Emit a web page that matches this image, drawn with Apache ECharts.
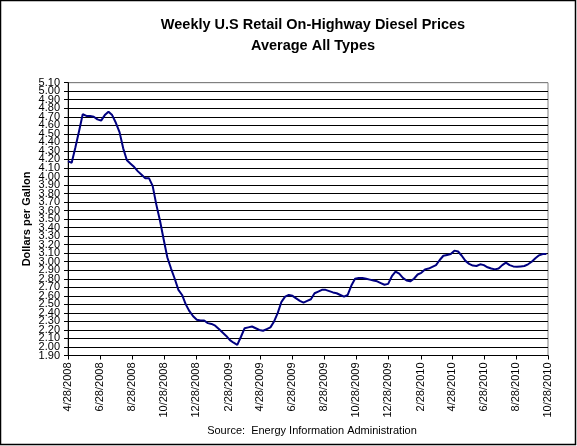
<!DOCTYPE html>
<html>
<head>
<meta charset="utf-8">
<script src="https://cdn.jsdelivr.net/npm/echarts@6/dist/echarts.min.js"></script>
<style>
html,body{margin:0;padding:0;background:#fff;}
#chart{width:577px;height:446px;}
</style>
</head>
<body>
<div id="chart"></div>
<script>
// Weekly series start (Monday 4/28/2008), one value per week
var startDate = [2008, 4, 28];
var prices = [
  4.18, 4.16, 4.34, 4.53, 4.73, 4.71, 4.71, 4.70, 4.67, 4.655,
  4.72, 4.76, 4.72, 4.63, 4.52, 4.33, 4.19, 4.15, 4.11, 4.06,
  4.02, 3.98, 3.98, 3.89, 3.67, 3.48, 3.26, 3.05, 2.92, 2.80,
  2.67, 2.61, 2.50, 2.42, 2.36, 2.32, 2.31, 2.31, 2.28, 2.27,
  2.25, 2.21, 2.17, 2.13, 2.08, 2.05, 2.025, 2.12, 2.22, 2.23,
  2.24, 2.22, 2.20, 2.19, 2.21, 2.23, 2.30, 2.40, 2.53, 2.59,
  2.61, 2.60, 2.57, 2.54, 2.52, 2.54, 2.56, 2.63, 2.65, 2.67,
  2.67, 2.655, 2.64, 2.63, 2.61, 2.59, 2.61, 2.72, 2.80, 2.81,
  2.81, 2.80, 2.79, 2.78, 2.77, 2.75, 2.73, 2.74, 2.83, 2.885,
  2.86, 2.81, 2.78, 2.77, 2.80, 2.85, 2.87, 2.91, 2.92, 2.94,
  2.96, 3.02, 3.07, 3.08, 3.09, 3.13, 3.12, 3.07, 3.01, 2.975,
  2.955, 2.95, 2.97, 2.96, 2.935, 2.92, 2.91, 2.92, 2.96, 2.99,
  2.96, 2.945, 2.94, 2.945, 2.95, 2.97, 3.00, 3.04, 3.075, 3.09,
  3.09
];
// X tick labels (every two months)
var tickLabels = [
  '4/28/2008','6/28/2008','8/28/2008','10/28/2008','12/28/2008',
  '2/28/2009','4/28/2009','6/28/2009','8/28/2009','10/28/2009',
  '12/28/2009','2/28/2010','4/28/2010','6/28/2010','8/28/2010','10/28/2010'
];
var yMin = 1.90, yMax = 5.10, yStep = 0.10;
var titleText = 'Weekly U.S Retail On-Highway Diesel Prices\nAverage All Types';
var yName = 'Dollars per Gallon';
var sourceText = 'Source:  Energy Information Administration';

var DAY = 86400000;
function parseLabel(s) {
  var p = s.split('/');
  return Date.UTC(+p[2], +p[0] - 1, +p[1]) / DAY; // day number
}
var tickDays = tickLabels.map(parseLabel);
var startDay = Date.UTC(startDate[0], startDate[1] - 1, startDate[2]) / DAY;
var seriesData = prices.map(function (v, i) {
  return [startDay + 7 * i, v];
});

var FONT = 'Arial, "Liberation Sans", sans-serif';
var nLines = Math.round((yMax - yMin) / yStep) + 1;
var lineColors = [], yEven = [], yOdd = [];
for (var i = 0; i < nLines; i++) {
  lineColors.push(i === nLines - 1 ? '#808080' : '#000000');
  var yv = Math.round((yMin + i * yStep) * 100) / 100;
  (i % 2 === 0 ? yEven : yOdd).push(yv);
}
var yLabelStyle = {
  margin: 8, hideOverlap: false, fontFamily: FONT, fontSize: 11, color: '#000',
  formatter: function (v) { return v.toFixed(2); }
};

var chart = echarts.init(document.getElementById('chart'), null, {renderer: 'canvas'});
chart.setOption({
  backgroundColor: '#ffffff',
  animation: false,
  title: [{
    text: titleText,
    left: 308,
    top: 9,
    textAlign: 'center',
    textStyle: {fontFamily: FONT, fontSize: 14.5, fontWeight: 'bold', color: '#000', lineHeight: 21}
  }, {
    text: sourceText,
    left: 307,
    top: 420,
    textAlign: 'center',
    textStyle: {fontFamily: FONT, fontSize: 11, fontWeight: 'normal', color: '#000'}
  }],
  graphic: [{
    type: 'rect',
    shape: {x: 0.5, y: 0.5, width: 575, height: 444},
    style: {fill: null, stroke: '#000', lineWidth: 1.5},
    silent: true
  }, {
    type: 'text',
    x: 27,
    y: 219,
    rotation: Math.PI / 2,
    silent: true,
    style: {
      text: yName, align: 'center', verticalAlign: 'middle',
      font: 'bold 11px ' + FONT, fill: '#000'
    }
  }],
  grid: {
    left: 68, right: 29, top: 82.7, bottom: 90.5,
    show: true, borderColor: '#808080', borderWidth: 1, backgroundColor: '#fff'
  },
  xAxis: {
    type: 'value',
    min: tickDays[0],
    max: tickDays[tickDays.length - 1],
    axisLine: {show: true, onZero: false, lineStyle: {color: '#000', width: 1}},
    axisTick: {show: true, customValues: tickDays, length: 4, lineStyle: {color: '#000'}},
    axisLabel: {
      customValues: tickDays,
      rotate: 90,
      margin: 7,
      hideOverlap: false,
      showMinLabel: true,
      showMaxLabel: true,
      fontFamily: FONT,
      fontSize: 11,
      color: '#000',
      formatter: function (v) {
        var idx = tickDays.indexOf(v);
        return idx >= 0 ? tickLabels[idx] : '';
      }
    },
    splitLine: {show: false}
  },
  yAxis: [{
    type: 'value',
    position: 'left',
    min: yMin,
    max: yMax,
    interval: yStep,
    axisLine: {show: true, onZero: false, lineStyle: {color: '#000', width: 1}},
    axisTick: {show: true, length: 4, lineStyle: {color: '#000'}},
    axisLabel: Object.assign({customValues: yEven, showMinLabel: true, showMaxLabel: true}, yLabelStyle),
    splitLine: {show: true, lineStyle: {color: lineColors, width: 1}}
  }, {
    type: 'value',
    position: 'left',
    offset: 0,
    min: yMin,
    max: yMax,
    interval: yStep,
    axisLine: {show: false, onZero: false},
    axisTick: {show: false},
    axisLabel: Object.assign({customValues: yOdd}, yLabelStyle),
    splitLine: {show: false}
  }],
  series: [{
    type: 'line',
    data: seriesData,
    showSymbol: false,
    symbol: 'none',
    smooth: false,
    lineStyle: {color: '#000080', width: 2},
    clip: false
  }]
});
</script>
</body>
</html>
